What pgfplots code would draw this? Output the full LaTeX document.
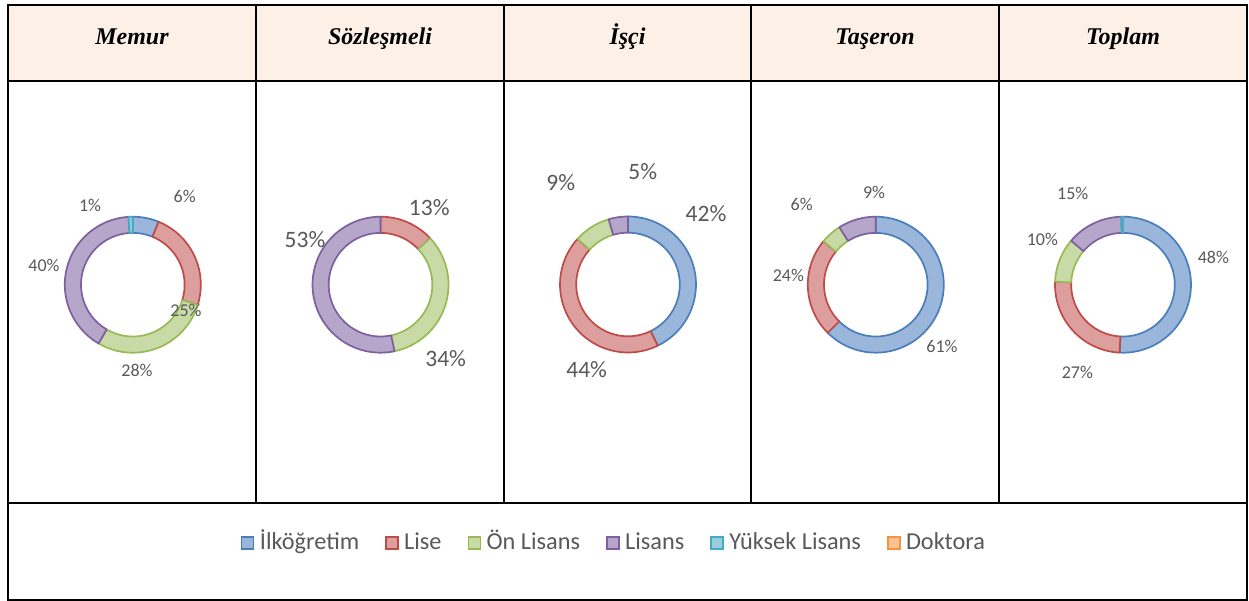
\documentclass[border=0pt]{standalone}
\usepackage{pgfplots}
\pgfplotsset{compat=1.18}
\usepackage{fontspec}
\setmainfont{Liberation Serif}
\newfontfamily\calibri{Carlito}
\definecolor{hdr}{HTML}{FDF0E6}
\definecolor{lbl}{HTML}{595959}
\definecolor{cAe}{HTML}{4A7EBB}\definecolor{cAf}{HTML}{9BB6DB}
\definecolor{cBe}{HTML}{BE4B48}\definecolor{cBf}{HTML}{DC9F9D}
\definecolor{cCe}{HTML}{98B954}\definecolor{cCf}{HTML}{C8DBA6}
\definecolor{cDe}{HTML}{7D60A0}\definecolor{cDf}{HTML}{B5A6CA}
\definecolor{cEe}{HTML}{46AAC5}\definecolor{cEf}{HTML}{96CEDE}
\definecolor{cFe}{HTML}{F69240}\definecolor{cFf}{HTML}{FAC392}
% slice: centre x, centre y, cumulative start %, cumulative end %, colour letter
\newcommand{\slice}[5]{%
  \addplot[forget plot, draw=c#5e, fill=c#5f, line width=1.7pt, line join=round,
    samples at={0,1,...,49,49.999,50,51,...,100}]
   ({#1+(51.8+16.2*(x<50))*sin(3.6*(#3+(#4-#3)*(1-abs(50-x)/50)))},
    {#2-(51.8+16.2*(x<50))*cos(3.6*(#3+(#4-#3)*(1-abs(50-x)/50)))}) -- cycle;
}
\newcommand{\hdrfont}{\fontsize{24}{28}\selectfont\bfseries\itshape}
\newcommand{\lbig}{\calibri\fontsize{23.5}{26}\selectfont}
\newcommand{\lleg}{\calibri\fontsize{24.3}{26}\selectfont}
\newcommand{\lsmall}{\calibri\fontsize{18}{20}\selectfont}
\begin{document}
\begin{tikzpicture}
\begin{axis}[x=1pt, y=1pt, xmin=0, xmax=1249, ymin=0, ymax=601, y dir=reverse,
  hide axis, scale only axis, clip=false,
  legend columns=6,
  legend image code/.code={\draw[#1, line width=1.5pt] (0pt,-6pt) rectangle (12pt,6pt);},
  legend style={draw=none, fill=none, at={(axis cs:614,543)}, anchor=center,
    font=\lleg, text=lbl, nodes={text height=12pt, text depth=0pt},
    /tikz/every even column/.append style={column sep=24pt},
    /tikz/every odd column/.append style={column sep=3.5pt}},
]
\fill[white] (axis cs:0,0) rectangle (axis cs:1249,601);
\fill[hdr] (axis cs:8,5) rectangle (axis cs:1247,81);
\addlegendimage{draw=cAe, fill=cAf}\addlegendentry{İlköğretim}
\addlegendimage{draw=cBe, fill=cBf}\addlegendentry{Lise}
\addlegendimage{draw=cCe, fill=cCf}\addlegendentry{Ön Lisans}
\addlegendimage{draw=cDe, fill=cDf}\addlegendentry{Lisans}
\addlegendimage{draw=cEe, fill=cEf}\addlegendentry{Yüksek Lisans}
\addlegendimage{draw=cFe, fill=cFf}\addlegendentry{Doktora}
% Memur: 6, 25, 28, 40, 1
\slice{132.8}{284.7}{0}{6.2}{A}
\slice{132.8}{284.7}{6.2}{29.8}{B}
\slice{132.8}{284.7}{29.8}{58.4}{C}
\slice{132.8}{284.7}{58.4}{99}{D}
\slice{132.8}{284.7}{99}{100}{E}
% Sozlesmeli: 13, 34, 53
\slice{380.5}{284.7}{0}{13}{B}
\slice{380.5}{284.7}{13}{46.7}{C}
\slice{380.5}{284.7}{46.7}{100}{D}
% Isci: 42, 44, 9, 5
\slice{628}{284.5}{0}{42.8}{A}
\slice{628}{284.5}{42.8}{86.7}{B}
\slice{628}{284.5}{86.7}{95.4}{C}
\slice{628}{284.5}{95.4}{100}{D}
% Taseron: 61, 24, 6, 9
\slice{875.8}{284.7}{0}{62.5}{A}
\slice{875.8}{284.7}{62.5}{86}{B}
\slice{875.8}{284.7}{86}{91}{C}
\slice{875.8}{284.7}{91}{100}{D}
% Toplam: 48, 27, 10, 15
\slice{1123}{284.7}{0}{50.8}{A}
\slice{1123}{284.7}{50.8}{75.7}{B}
\slice{1123}{284.7}{75.7}{86.2}{C}
\slice{1123}{284.7}{86.2}{99.6}{D}
\slice{1123}{284.7}{99.6}{100}{E}
% table frame
\draw[black, line width=2pt] (axis cs:8,5) rectangle (axis cs:1247,599.7);
\draw[black, line width=2pt] (axis cs:8,81) -- (axis cs:1247,81);
\draw[black, line width=2pt] (axis cs:8,503) -- (axis cs:1247,503);
\draw[black, line width=2pt] (axis cs:256,5) -- (axis cs:256,503);
\draw[black, line width=2pt] (axis cs:504,5) -- (axis cs:504,503);
\draw[black, line width=2pt] (axis cs:751,5) -- (axis cs:751,503);
\draw[black, line width=2pt] (axis cs:999,5) -- (axis cs:999,503);
% headers
\node[anchor=base, font=\hdrfont] at (axis cs:132,45) {Memur};
\node[anchor=base, font=\hdrfont] at (axis cs:380,45) {Sözleşmeli};
\node[anchor=base, font=\hdrfont] at (axis cs:627.5,45) {İşçi};
\node[anchor=base, font=\hdrfont] at (axis cs:875,45) {Taşeron};
\node[anchor=base, font=\hdrfont] at (axis cs:1123,45) {Toplam};
% data labels
\node[font=\lsmall, text=lbl] at (axis cs:184.7,196) {6\%};
\node[font=\lsmall, text=lbl] at (axis cs:186,310) {25\%};
\node[font=\lsmall, text=lbl] at (axis cs:137,370) {28\%};
\node[font=\lsmall, text=lbl] at (axis cs:44,265) {40\%};
\node[font=\lsmall, text=lbl] at (axis cs:90,205) {1\%};
\node[font=\lbig, text=lbl] at (axis cs:429.3,207.3) {13\%};
\node[font=\lbig, text=lbl] at (axis cs:305,240) {53\%};
\node[font=\lbig, text=lbl] at (axis cs:445.7,358.3) {34\%};
\node[font=\lbig, text=lbl] at (axis cs:642.7,171.7) {5\%};
\node[font=\lbig, text=lbl] at (axis cs:560.7,182.3) {9\%};
\node[font=\lbig, text=lbl] at (axis cs:706,214) {42\%};
\node[font=\lbig, text=lbl] at (axis cs:586.7,369.3) {44\%};
\node[font=\lsmall, text=lbl] at (axis cs:874,192.7) {9\%};
\node[font=\lsmall, text=lbl] at (axis cs:801.7,204) {6\%};
\node[font=\lsmall, text=lbl] at (axis cs:788.3,275.3) {24\%};
\node[font=\lsmall, text=lbl] at (axis cs:942,346.7) {61\%};
\node[font=\lsmall, text=lbl] at (axis cs:1072.7,193.3) {15\%};
\node[font=\lsmall, text=lbl] at (axis cs:1042.3,239) {10\%};
\node[font=\lsmall, text=lbl] at (axis cs:1213.3,257.3) {48\%};
\node[font=\lsmall, text=lbl] at (axis cs:1077.3,372.7) {27\%};
\end{axis}
\end{tikzpicture}
\end{document}
